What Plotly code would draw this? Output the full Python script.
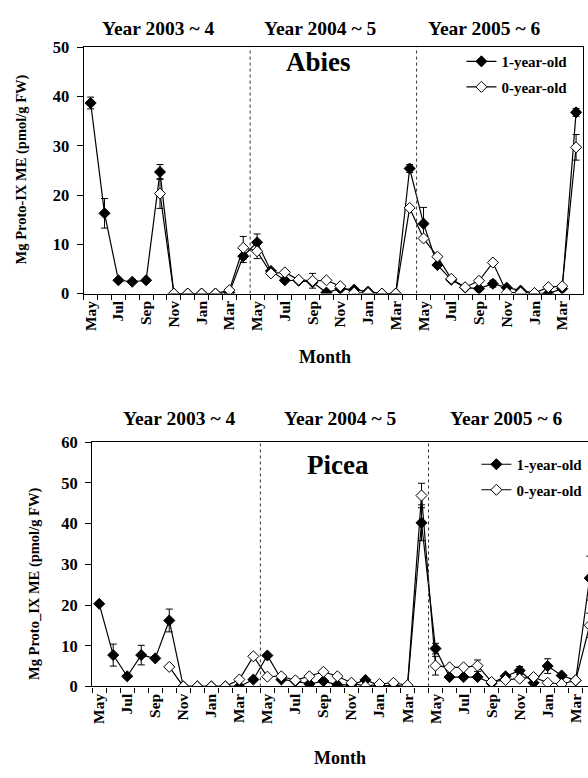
import plotly.graph_objects as go

# ---- data -------------------------------------------------------------
month_names = ["May", "Jun", "Jul", "Aug", "Sep", "Oct", "Nov", "Dec",
               "Jan", "Feb", "Mar", "Apr"]
season_years = [2003, 2004, 2005]
months = []
for y0 in season_years:
    for k, m in enumerate(month_names):
        months.append(f"{m} {y0 if k < 8 else y0 + 1}")
tick_text = [m.split()[0] if i % 2 == 0 else "" for i, m in enumerate(months)]
season_labels = ["Year 2003 ~ 4", "Year 2004 ~ 5", "Year 2005 ~ 6"]
season_breaks = ["May 2004", "May 2005"]

abies_1y = [38.7, 16.3, 2.7, 2.4, 2.7, 24.7, 0, 0, 0, 0, 0.2, 7.6,
            10.4, 4.6, 2.7, 2.6, 2.3, 0.2, 1.0, 0.8, 0.4, 0, 0, 25.4,
            14.2, 5.8, 2.8, 1.2, 1.0, 2.0, 1.2, 0.6, 0.1, 0, 1.0, 36.8]
abies_1y_err = [1.2, 3.0, None, None, None, 1.5, None, None, None, None, None, 1.3,
                1.7, None, None, None, None, None, None, None, None, None, None, 0.8,
                3.3, None, None, None, None, 0.7, None, None, None, None, None, 0.8]
abies_0y = [None, None, None, None, None, 20.3, 0, 0, 0, 0, 0.7, 9.3,
            8.6, 4.1, 4.3, 2.8, 2.6, 2.7, 1.5, 0.2, 0.1, 0, 0, 17.4,
            11.2, 7.5, 3.0, 1.3, 2.6, 6.3, 0.2, 0.2, 0.1, 1.3, 1.5, 29.7]
abies_0y_err = [None, None, None, None, None, 3.0, None, None, None, None, None, 2.3,
                1.5, None, None, None, 1.5, None, None, None, None, None, None, None,
                None, None, None, None, None, None, None, None, None, None, None, 2.6]

picea_1y = [20.3, 7.7, 2.5, 7.7, 6.9, 16.2, 0, 0, 0, 0, 0, 1.7,
            7.6, 1.7, 1.3, 0.6, 1.3, 0.4, 0.4, 1.6, 0.2, 0.2, 0, 40.2,
            9.3, 2.3, 2.3, 2.3, 0.8, 2.5, 3.9, 0.9, 5.0, 2.7, 1.5, 26.6]
picea_1y_err = [None, 2.7, None, 2.4, None, 2.8, None, None, None, None, None, None,
                None, None, None, None, None, None, None, None, None, None, None, 4.4,
                1.3, None, None, None, None, None, 1.0, None, 1.8, None, None, 5.4]
picea_0y = [None, None, None, None, None, 4.8, 0, 0, 0, 0, 1.7, 7.4,
            2.4, 2.5, 1.5, 2.5, 3.6, 2.5, 0.9, 0, 0.6, 0.9, 0.3, 46.9,
            5.1, 4.7, 4.7, 5.1, 1.1, 1.6, 1.9, 2.3, 0.9, 0.6, 1.5, 15.0]
picea_0y_err = [None, None, None, None, None, None, None, None, None, None, None, None,
                None, None, None, None, None, None, None, None, None, None, None, 3.0,
                2.3, None, None, 1.4, None, None, None, None, None, None, None, 3.0]

# ---- layout helpers ---------------------------------------------------
W, H = 588, 778
FONT = "Liberation Serif"


def px(x):
    return x / W


def py(y):
    return 1 - y / H


def bold(size):
    return dict(family=FONT, size=size, color="black", weight="bold")


fig = go.Figure()

panels = [
    dict(name="Abies", ax="", leg="legend", ymax=50,
         s1=(abies_1y, abies_1y_err), s0=(abies_0y, abies_0y_err)),
    dict(name="Picea", ax="2", leg="legend2", ymax=60,
         s1=(picea_1y, picea_1y_err), s0=(picea_0y, picea_0y_err)),
]

for p in panels:
    for label, (vals, errs), fill in [("1-year-old", p["s1"], "black"),
                                      ("0-year-old", p["s0"], "white")]:
        fig.add_trace(go.Scatter(
            x=months, y=vals, name=label, mode="lines+markers",
            xaxis="x" + p["ax"], yaxis="y" + p["ax"], legend=p["leg"],
            legendgroup=p["name"] + label,
            line=dict(color="black", width=1.2),
            marker=dict(symbol="diamond", size=8.5, color=fill,
                        line=dict(color="black", width=1)),
            error_y=dict(type="data", array=errs, visible=True,
                         color="black", thickness=1, width=3.5),
            connectgaps=False,
        ))

axis_common = dict(
    type="category", categoryorder="array", categoryarray=months,
    showline=True, linecolor="black", linewidth=1.3, mirror=True,
    ticks="outside", ticklen=5, tickwidth=1, tickcolor="black",
    tickson="boundaries", tickmode="array", tickvals=months,
    ticktext=tick_text, tickangle=-90, tickfont=bold(15.5),
    showgrid=False, zeroline=False,
)
yaxis_common = dict(
    showline=True, linecolor="black", linewidth=1.3,
    ticks="outside", ticklen=6, tickwidth=1, tickcolor="black",
    tickfont=bold(16.5), dtick=10, showgrid=False, zeroline=False,
    ticklabelstandoff=4,
)

fig.update_layout(
    width=W, height=H, margin=dict(l=0, r=0, t=0, b=0),
    paper_bgcolor="white", plot_bgcolor="white",
    xaxis=dict(axis_common, domain=[px(82), px(583)], range=[-0.5, 35.5],
               anchor="y"),
    yaxis=dict(yaxis_common, domain=[py(291.7), py(39.3)], range=[0, 50],
               mirror=True, anchor="x"),
    xaxis2=dict(axis_common, domain=[px(90.5), 1.0], range=[-0.5, 34.88],
                anchor="y2"),
    yaxis2=dict(yaxis_common, domain=[py(694.4), py(444)], range=[0, 60],
                mirror=False, anchor="x2"),
    legend=dict(x=px(461), y=py(37), xanchor="left", yanchor="top",
                font=bold(15), bgcolor="rgba(0,0,0,0)", tracegroupgap=3),
    legend2=dict(x=px(476), y=py(450), xanchor="left", yanchor="top",
                 font=bold(15), bgcolor="rgba(0,0,0,0)", tracegroupgap=3),
    showlegend=True,
)

# dotted separators between growing seasons
for p in panels:
    for b in season_breaks:
        xb = months.index(b) - 0.5
        fig.add_shape(type="line", xref="x" + p["ax"], yref="y" + p["ax"],
                      x0=xb, x1=xb, y0=0, y1=p["ymax"],
                      line=dict(color="#333", width=1, dash="dot"))

# season headings, species names, axis titles
top_season_x = [157, 319, 484]
bottom_season_x = [178, 339, 506]
for lbl, xa, xb in zip(season_labels, top_season_x, bottom_season_x):
    fig.add_annotation(x=px(xa), y=py(20), xref="paper", yref="paper",
                       text=lbl, showarrow=False, font=bold(19.5),
                       xanchor="center", yanchor="middle")
    fig.add_annotation(x=px(xb), y=py(420), xref="paper", yref="paper",
                       text=lbl, showarrow=False, font=bold(19.5),
                       xanchor="center", yanchor="middle")

fig.add_annotation(x=px(318), y=py(54), xref="paper", yref="paper",
                   text="Abies", showarrow=False, font=bold(27),
                   xanchor="center", yanchor="middle")
fig.add_annotation(x=px(337.5), y=py(467), xref="paper", yref="paper",
                   text="Picea", showarrow=False, font=bold(27),
                   xanchor="center", yanchor="middle")

fig.add_annotation(x=px(20.5), y=py(164), xref="paper", yref="paper",
                   text="Mg Proto-IX ME (pmol/g FW)", textangle=-90,
                   showarrow=False, font=bold(14.5),
                   xanchor="center", yanchor="middle")
fig.add_annotation(x=px(32.5), y=py(589), xref="paper", yref="paper",
                   text="Mg Proto_IX ME (pmol/g FW)", textangle=-90,
                   showarrow=False, font=bold(14.5),
                   xanchor="center", yanchor="middle")

fig.add_annotation(x=px(324), y=py(357), xref="paper", yref="paper",
                   text="Month", showarrow=False, font=bold(18),
                   xanchor="center", yanchor="middle")
fig.add_annotation(x=px(339), y=py(767.5), xref="paper", yref="paper",
                   text="Month", showarrow=False, font=bold(18),
                   xanchor="center", yanchor="middle")

fig.write_html("out.html")
